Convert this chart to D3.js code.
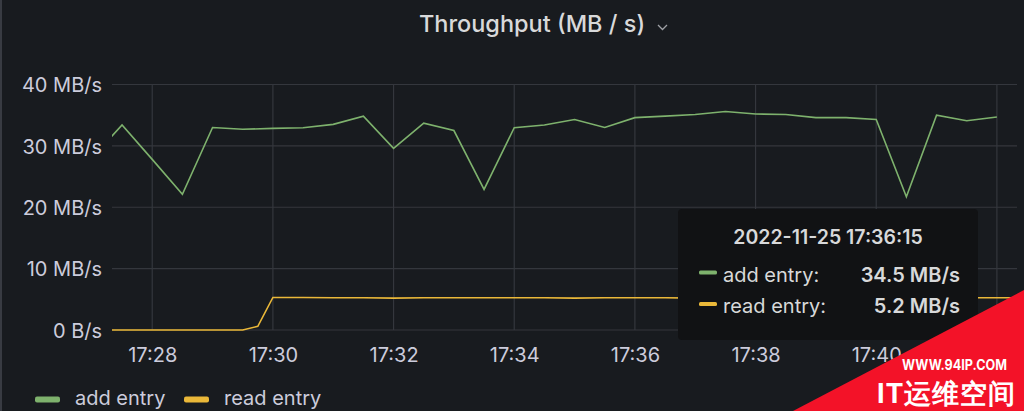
<!DOCTYPE html>
<html>
<head>
<meta charset="utf-8">
<script src="https://cdn.jsdelivr.net/npm/d3@7"></script>
<style>
html,body{margin:0;padding:0;background:#181b1f;}
svg{display:block;}
text{font-family:Inter,"Noto Sans",sans-serif;}
</style>
</head>
<body>
<svg id="chart" width="1024" height="411"></svg>
<script>
// ---- data ----
const addTimes = ["17:27:00","17:27:30","17:28:00","17:28:30","17:29:00","17:29:30","17:30:00","17:30:30",
  "17:31:00","17:31:30","17:32:00","17:32:30","17:33:00","17:33:30","17:34:00","17:34:30","17:35:00",
  "17:35:30","17:36:00","17:36:30","17:37:00","17:37:30","17:38:00","17:38:30","17:39:00","17:39:30",
  "17:40:00","17:40:30","17:41:00","17:41:30","17:42:00"];
const addEntry = [28.0,33.4,27.8,22.1,33.0,32.7,32.85,32.95,33.5,34.85,29.6,33.7,32.5,22.9,32.95,33.4,34.3,
  33.0,34.6,34.85,35.1,35.6,35.2,35.1,34.6,34.6,34.3,21.7,35.0,34.1,34.7];
const readTimes = ["17:27:00","17:27:30","17:28:00","17:28:30","17:29:00","17:29:30","17:29:45","17:30:00",
  "17:30:30","17:31:00","17:31:30","17:32:00","17:32:30","17:33:00","17:33:30","17:34:00","17:34:30",
  "17:35:00","17:35:30","17:36:00","17:36:30","17:37:00","17:37:30","17:38:00","17:38:30","17:39:00",
  "17:39:30","17:40:00","17:40:30","17:41:00","17:41:30","17:42:00","17:42:15"];
const readEntry = [0,0,0,0,0,0,0.6,5.3,5.3,5.25,5.25,5.2,5.25,5.25,5.25,5.25,5.25,5.2,5.25,5.25,5.25,
  5.2,5.25,5.25,5.25,5.25,5.2,5.25,5.25,5.25,5.25,5.25,5.25];
const yTicks = [0,10,20,30,40];
const xGridTimes = ["17:28","17:30","17:32","17:34","17:36","17:38","17:40","17:42"];
const xTickLabels = ["17:28","17:30","17:32","17:34","17:36","17:38","17:40"];
const timeDomain = ["17:27:20","17:42:20"];
const seriesNames = ["add entry","read entry"];
const seriesColors = ["#7eb26d","#eab839"];
const tooltipTitle = "2022-11-25 17:36:15";
const tooltipValues = ["34.5 MB/s","5.2 MB/s"];
const chartTitle = "Throughput (MB / s)";

// ---- helpers ----
const day = "2022-11-25T";
const parse = s => new Date(day + (s.length === 5 ? s + ":00" : s));

const svg = d3.select("#chart");
const W = 1024, H = 411;
const plot = {left:112, right:1017, top:84.5, bottom:330};

svg.append("rect").attr("width",W).attr("height",H).attr("fill","#181b1f");
svg.append("rect").attr("x",0).attr("y",0).attr("width",2).attr("height",H).attr("fill","#383b42");

const x = d3.scaleTime().domain(timeDomain.map(parse)).range([plot.left, plot.right]);
const y = d3.scaleLinear().domain([0,40]).range([plot.bottom, plot.top]);

// title
svg.append("text").attr("x",532).attr("y",32).attr("text-anchor","middle")
  .attr("fill","#d8d9da").attr("font-size",23.5).attr("font-weight",500).text(chartTitle);
svg.append("path").attr("d","M658,25 L662.5,29.5 L667,25").attr("fill","none")
  .attr("stroke","#9fa1a6").attr("stroke-width",1.3);

// grid
const grid = svg.append("g");
grid.selectAll("line.h").data(yTicks).enter().append("line")
  .attr("x1",plot.left).attr("x2",plot.right)
  .attr("y1",d=>y(d)).attr("y2",d=>y(d))
  .attr("stroke","#34373d").attr("stroke-width",1.2);
grid.selectAll("line.v").data(xGridTimes.map(parse)).enter().append("line")
  .attr("x1",d=>x(d)).attr("x2",d=>x(d))
  .attr("y1",plot.top).attr("y2",plot.bottom)
  .attr("stroke","#34373d").attr("stroke-width",1.2);

// y axis labels
const yAxis = d3.axisLeft(y).tickValues(yTicks).tickSize(0).tickPadding(0)
  .tickFormat(d => d === 0 ? "0 B/s" : d + " MB/s");
const ya = svg.append("g").attr("transform","translate(102,0)").call(yAxis);
ya.select(".domain").remove();
ya.selectAll("text").attr("fill","#ccccdc").attr("font-size",20).attr("dy","0.36em")
  .attr("font-family","Inter, 'Noto Sans', sans-serif");

// x axis labels
const xAxis = d3.axisBottom(x).tickValues(xTickLabels.map(parse)).tickSize(0).tickPadding(0)
  .tickFormat(d3.timeFormat("%H:%M"));
const xa = svg.append("g").attr("transform","translate(0,347)").call(xAxis);
xa.select(".domain").remove();
xa.selectAll("text").attr("fill","#ccccdc").attr("font-size",20).attr("dy","0.76em")
  .attr("font-family","Inter, 'Noto Sans', sans-serif");

// clip
svg.append("clipPath").attr("id","clip").append("rect")
  .attr("x",plot.left).attr("y",0).attr("width",plot.right-plot.left).attr("height",H);

const line = d3.line().x(d=>x(d.t)).y(d=>y(d.v));
const addData = addTimes.map((t,i)=>({t:parse(t), v:addEntry[i]}));
const readData = readTimes.map((t,i)=>({t:parse(t), v:readEntry[i]}));

const lines = svg.append("g").attr("clip-path","url(#clip)");
lines.append("path").datum(readData).attr("d",line).attr("fill","none")
  .attr("stroke",seriesColors[1]).attr("stroke-width",1.6);
lines.append("path").datum(addData).attr("d",line).attr("fill","none")
  .attr("stroke",seriesColors[0]).attr("stroke-width",1.6);

// legend
const legend = svg.append("g");
const legX = [35, 184];
seriesNames.forEach((n,i)=>{
  legend.append("rect").attr("x",legX[i]).attr("y",396.5).attr("width",25).attr("height",6).attr("rx",2)
    .attr("fill",seriesColors[i]);
  legend.append("text").attr("x",legX[i]+40).attr("y",405).attr("fill","#ccccdc")
    .attr("font-size",20).text(n);
});

// tooltip
const tt = svg.append("g");
tt.append("rect").attr("x",678).attr("y",209).attr("width",300).attr("height",131).attr("rx",4)
  .attr("fill","#111214");
tt.append("text").attr("x",828).attr("y",244).attr("text-anchor","middle").attr("fill","#d8d9da")
  .attr("font-size",19.5).attr("font-weight",600).text(tooltipTitle);
const rowY = [281.5, 313];
seriesNames.forEach((n,i)=>{
  tt.append("rect").attr("x",699).attr("y",rowY[i]-11).attr("width",18).attr("height",4).attr("rx",1.5)
    .attr("fill",seriesColors[i]);
  tt.append("text").attr("x",723).attr("y",rowY[i]).attr("fill","#d8d9da").attr("font-size",20)
    .text(n + ":");
  tt.append("text").attr("x",960).attr("y",rowY[i]).attr("text-anchor","end").attr("fill","#d8d9da")
    .attr("font-size",20).attr("font-weight",600).text(tooltipValues[i]);
});

// watermark
const wm = svg.append("g");
wm.append("path").attr("d","M793,411 L1024,290 L1024,411 Z").attr("fill","#f31228");
wm.append("text").attr("x",902).attr("y",370).attr("fill","#ffffff")
  .attr("font-family","'Liberation Serif','DejaVu Serif',serif").attr("font-weight",700)
  .attr("font-size",14).attr("textLength",105).attr("lengthAdjust","spacingAndGlyphs").text("WWW.94IP.COM");
wm.append("text").attr("x",877).attr("y",403).attr("fill","#ffffff")
  .attr("font-family","'Noto Sans CJK SC',sans-serif").attr("font-weight",700)
  .attr("font-size",27).attr("textLength",138).attr("lengthAdjust","spacing").text("IT运维空间");
</script>
</body>
</html>
